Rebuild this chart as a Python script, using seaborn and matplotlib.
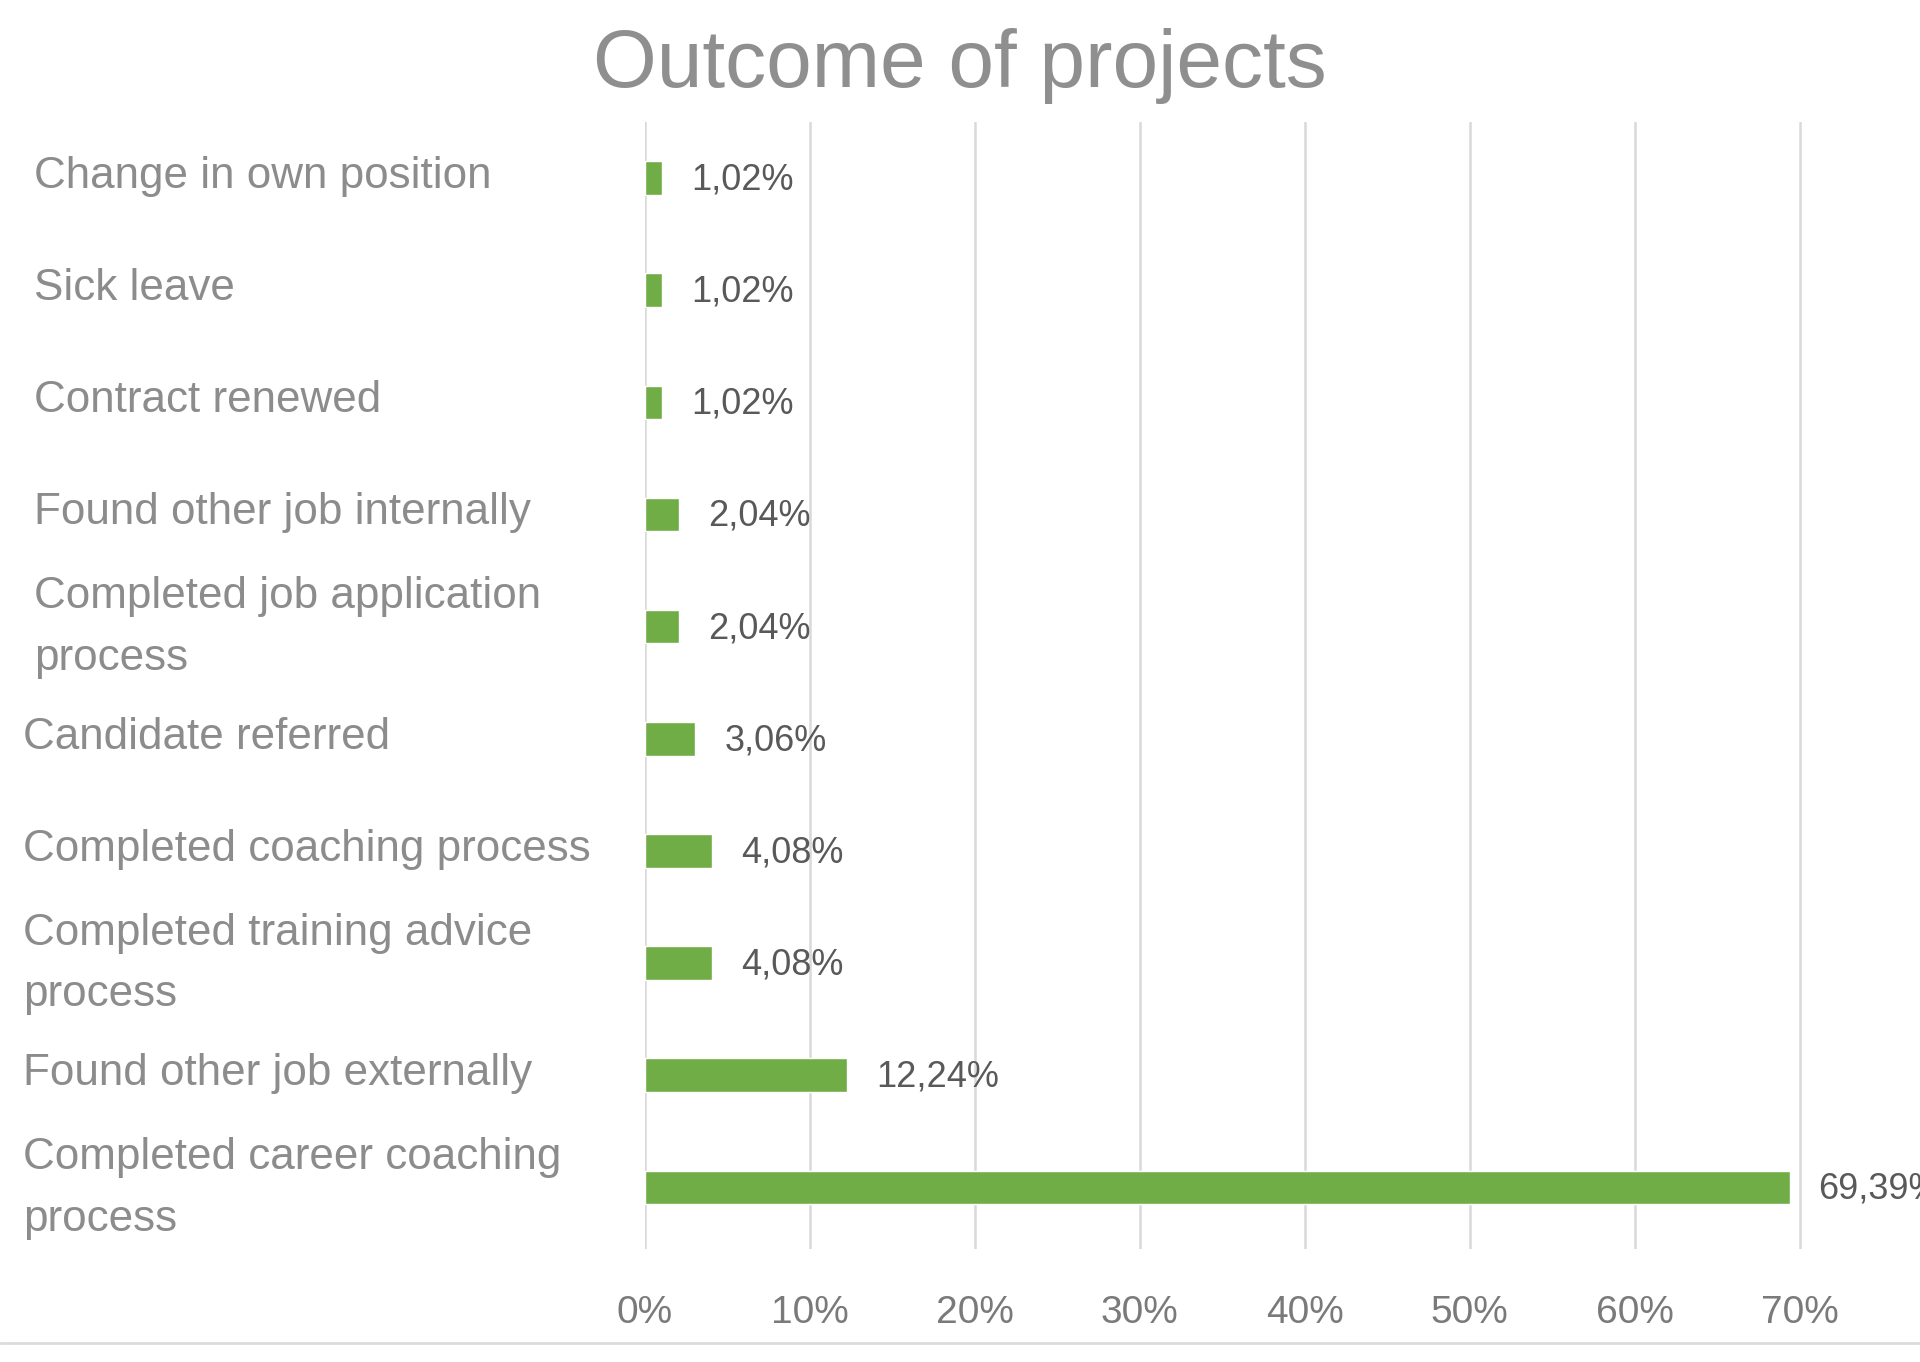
import matplotlib
matplotlib.use('Agg')
import matplotlib.pyplot as plt
import matplotlib.transforms as mtransforms
from matplotlib import font_manager
import seaborn as sns
import pandas as pd

# data
categories = ['Change in own position', 'Sick leave', 'Contract renewed',
              'Found other job internally', 'Completed job application\nprocess',
              'Candidate referred', 'Completed coaching process',
              'Completed training advice\nprocess', 'Found other job externally',
              'Completed career coaching\nprocess']
shares = [1.02, 1.02, 1.02, 2.04, 2.04, 3.06, 4.08, 4.08, 12.24, 69.39]
xticks = [0, 10, 20, 30, 40, 50, 60, 70]

df = pd.DataFrame({'outcome': categories, 'share': shares})

sns.set_style('white')
plt.rcParams['font.family'] = ['Liberation Sans', 'DejaVu Sans']

# narrow font for the numbers if one is there
installed = {f.name for f in font_manager.fontManager.ttflist}
narrow = None
for name in ['Liberation Sans Narrow', 'DejaVu Sans Condensed']:
    if name in installed:
        narrow = name
        break
if narrow:
    num_family = [narrow, 'DejaVu Sans']
    num_size = 30
else:
    num_family = ['Liberation Sans', 'DejaVu Sans']
    num_size = 26

fig = plt.figure(figsize=(19.2, 13.62), dpi=100)
ax = fig.add_axes([645 / 1920, 113 / 1362, 1 - 645 / 1920, (1249 - 122) / 1362])

sns.barplot(data=df, x='share', y='outcome', orient='h', color='#70AD47',
            saturation=1, width=0.3, ax=ax, zorder=3)

ax.set_xlim(0, 77.3)
ax.set_ylim(9.55, -0.5)
ax.set_xticks(xticks)
ax.set_xticklabels([f'{t}%' for t in xticks], family=num_family,
                   fontsize=num_size + 2, color='#7a7a7a')
ax.tick_params(axis='x', length=0, pad=33)
ax.xaxis.grid(True, color='#d9d9d9', linewidth=1.8)
ax.yaxis.grid(False)
for s in ax.spines.values():
    s.set_visible(False)
ax.set_xlabel('')
ax.set_ylabel('')

# category labels, left aligned near the figure edge
ax.tick_params(axis='y', length=0, pad=440)
for i, lab in enumerate(ax.get_yticklabels()):
    lab.set_ha('left')
    lab.set_fontsize(31.7)
    lab.set_color('#8c8c8c')
    lab.set_linespacing(1.65)
    dx = -0.11 if i >= 5 else 0
    dy = 0.14 if '\n' in lab.get_text() else 0.06
    lab.set_transform(lab.get_transform() +
                      mtransforms.ScaledTranslation(dx, dy, fig.dpi_scale_trans))

# value labels
offset = mtransforms.ScaledTranslation(0.29, -0.02, fig.dpi_scale_trans)
for i, v in enumerate(shares):
    ax.text(v, i, f'{v:.2f}'.replace('.', ',') + '%', ha='left', va='center',
            family=num_family, fontsize=num_size, color='#595959',
            transform=ax.transData + offset, clip_on=False)

fig.text(0.5, 1 - 66 / 1362, 'Outcome of projects', ha='center', va='center',
         fontsize=59, color='#8f8f8f')

fig.add_artist(plt.Line2D([0, 1], [1 - 1343 / 1362] * 2, transform=fig.transFigure,
                          color='#dcdcdc', linewidth=2))

fig.savefig('out.png', dpi=100, facecolor='white')
